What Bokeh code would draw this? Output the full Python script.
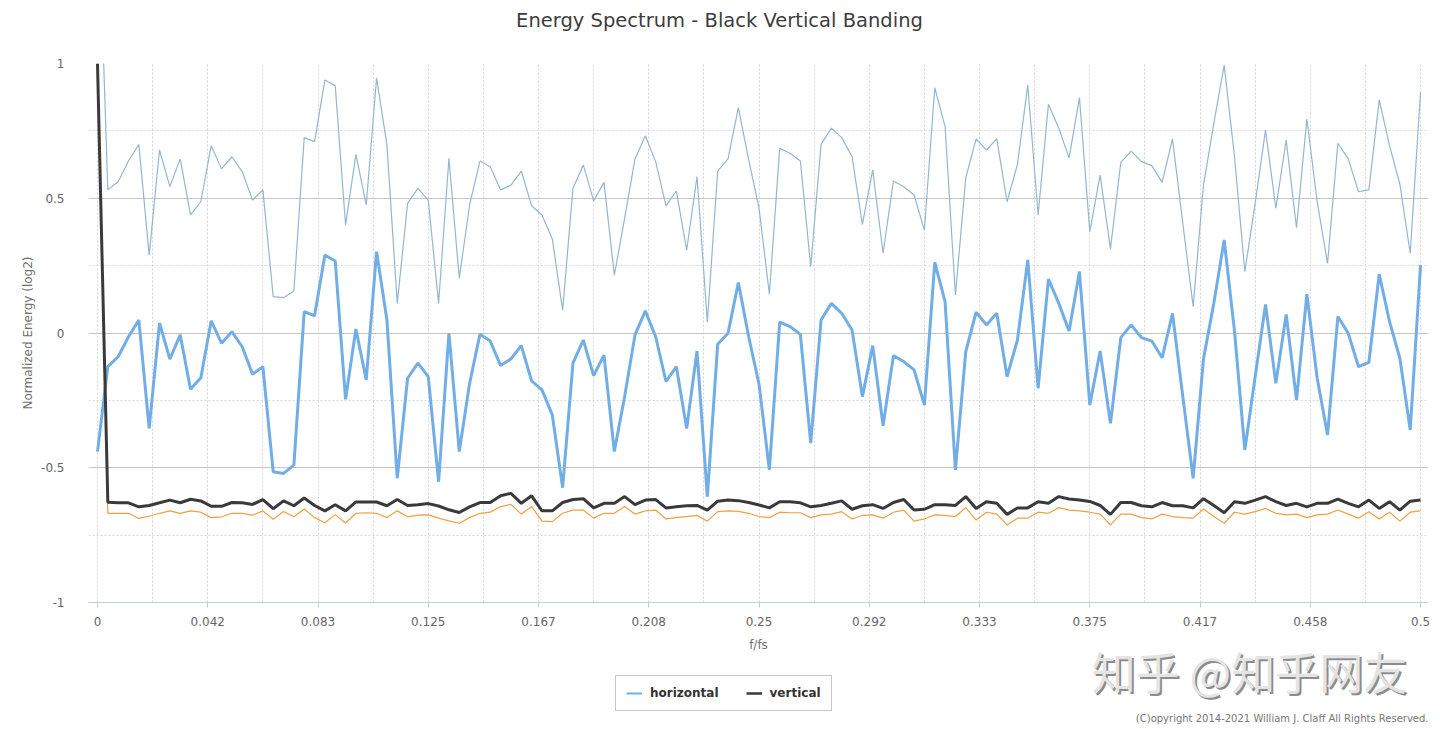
from bokeh.embed import file_html
from bokeh.resources import INLINE
from bokeh.layouts import column
from bokeh.plotting import figure
from bokeh.models import Range1d, FixedTicker, Label, Legend, LegendItem

# spectrum bins: 256 point FFT, bins 0..128 -> f/fs from 0 to 0.5
n_fft = 256
freq = [k / n_fft for k in range(n_fft // 2 + 1)]

horizontal = [
    -0.44, -0.125, -0.088, -0.014, 0.048, -0.354, 0.037, -0.097, -0.007, -0.209,
    -0.166, 0.045, -0.038, 0.005, -0.051, -0.153, -0.125, -0.515, -0.521, -0.49,
    0.079, 0.064, 0.289, 0.267, -0.246, 0.015, -0.174, 0.302, 0.048, -0.539,
    -0.168, -0.112, -0.162, -0.552, -0.001, -0.44, -0.187, -0.005, -0.03, -0.121,
    -0.096, -0.047, -0.178, -0.211, -0.304, -0.574, -0.112, -0.026, -0.158, -0.082,
    -0.44, -0.236, -0.007, 0.082, -0.014, -0.18, -0.125, -0.354, -0.067, -0.607,
    -0.042, -0.001, 0.187, -0.014, -0.19, -0.508, 0.04, 0.024, -0.005, -0.409,
    0.048, 0.11, 0.073, 0.011, -0.236, -0.047, -0.344, -0.084, -0.106, -0.137,
    -0.267, 0.262, 0.116, -0.508, -0.069, 0.077, 0.03, 0.073, -0.162, -0.026,
    0.271, -0.205, 0.2, 0.11, 0.007, 0.228, -0.267, -0.067, -0.335, -0.017,
    0.03, -0.017, -0.03, -0.092, 0.073, -0.236, -0.539, -0.096, 0.11, 0.345,
    0.007, -0.434, -0.162, 0.106, -0.187, 0.069, -0.249, 0.144, -0.168, -0.378,
    0.061, -0.001, -0.125, -0.109, 0.218, 0.042, -0.094, -0.36, 0.252,
]

vertical = [
    1.0, -0.628, -0.63, -0.63, -0.645, -0.64, -0.63, -0.62, -0.63, -0.617,
    -0.623, -0.643, -0.643, -0.629, -0.63, -0.636, -0.618, -0.652, -0.623, -0.641,
    -0.612, -0.64, -0.66, -0.637, -0.66, -0.627, -0.627, -0.627, -0.641, -0.618,
    -0.64, -0.637, -0.633, -0.642, -0.656, -0.666, -0.645, -0.629, -0.629, -0.604,
    -0.595, -0.632, -0.604, -0.66, -0.66, -0.629, -0.618, -0.615, -0.649, -0.632,
    -0.632, -0.607, -0.637, -0.62, -0.618, -0.649, -0.645, -0.641, -0.64, -0.657,
    -0.624, -0.62, -0.622, -0.629, -0.638, -0.649, -0.626, -0.626, -0.63, -0.645,
    -0.64, -0.632, -0.623, -0.654, -0.641, -0.637, -0.651, -0.629, -0.618, -0.657,
    -0.654, -0.637, -0.637, -0.64, -0.607, -0.651, -0.626, -0.632, -0.673, -0.649,
    -0.649, -0.626, -0.632, -0.607, -0.616, -0.62, -0.625, -0.64, -0.673, -0.629,
    -0.629, -0.641, -0.645, -0.629, -0.641, -0.641, -0.649, -0.615, -0.64, -0.667,
    -0.626, -0.632, -0.62, -0.607, -0.626, -0.64, -0.632, -0.645, -0.632, -0.632,
    -0.616, -0.632, -0.645, -0.62, -0.651, -0.626, -0.657, -0.624, -0.62,
]

# faint duplicate traces visible in the screenshot (not in the legend)
horizontal_ghost = [
    1.7, 0.531, 0.561, 0.638, 0.70, 0.289, 0.679, 0.543, 0.646, 0.438,
    0.487, 0.695, 0.609, 0.654, 0.599, 0.493, 0.531, 0.135, 0.131, 0.156,
    0.725, 0.71, 0.939, 0.918, 0.401, 0.663, 0.475, 0.947, 0.698, 0.11,
    0.481, 0.537, 0.493, 0.11, 0.648, 0.203, 0.475, 0.638, 0.617, 0.531,
    0.549, 0.601, 0.472, 0.438, 0.349, 0.085, 0.537, 0.623, 0.49, 0.559,
    0.215, 0.426, 0.646, 0.732, 0.636, 0.472, 0.527, 0.308, 0.58, 0.04,
    0.601, 0.646, 0.836, 0.642, 0.463, 0.144, 0.685, 0.667, 0.638, 0.246,
    0.70, 0.76, 0.725, 0.654, 0.403, 0.605, 0.296, 0.564, 0.543, 0.512,
    0.382, 0.91, 0.766, 0.141, 0.576, 0.72, 0.679, 0.72, 0.487, 0.626,
    0.92, 0.438, 0.849, 0.76, 0.65, 0.873, 0.376, 0.586, 0.312, 0.633,
    0.675, 0.636, 0.621, 0.559, 0.72, 0.407, 0.098, 0.549, 0.778, 0.994,
    0.654, 0.228, 0.481, 0.753, 0.463, 0.716, 0.391, 0.794, 0.487, 0.258,
    0.704, 0.646, 0.524, 0.531, 0.865, 0.695, 0.552, 0.296, 0.895,
]

vertical_ghost = [
    1.0, -0.669, -0.669, -0.669, -0.688, -0.68, -0.669, -0.66, -0.669, -0.66,
    -0.665, -0.685, -0.682, -0.669, -0.669, -0.676, -0.66, -0.691, -0.662, -0.682,
    -0.653, -0.685, -0.704, -0.674, -0.705, -0.669, -0.667, -0.669, -0.685, -0.66,
    -0.682, -0.676, -0.675, -0.687, -0.697, -0.706, -0.685, -0.669, -0.665, -0.644,
    -0.636, -0.672, -0.644, -0.698, -0.70, -0.669, -0.657, -0.657, -0.687, -0.669,
    -0.669, -0.644, -0.672, -0.66, -0.657, -0.69, -0.685, -0.681, -0.677, -0.698,
    -0.663, -0.66, -0.662, -0.669, -0.681, -0.685, -0.665, -0.667, -0.667, -0.685,
    -0.675, -0.672, -0.663, -0.69, -0.677, -0.675, -0.687, -0.665, -0.657, -0.698,
    -0.69, -0.675, -0.677, -0.681, -0.648, -0.694, -0.665, -0.672, -0.712, -0.687,
    -0.687, -0.665, -0.669, -0.648, -0.657, -0.66, -0.665, -0.672, -0.712, -0.672,
    -0.672, -0.685, -0.69, -0.672, -0.681, -0.685, -0.687, -0.653, -0.681, -0.706,
    -0.665, -0.672, -0.663, -0.651, -0.669, -0.675, -0.672, -0.685, -0.675, -0.672,
    -0.657, -0.672, -0.687, -0.663, -0.69, -0.665, -0.698, -0.665, -0.66,
]

x_ticks = [0] + [i / 24 for i in range(1, 13)]
x_tick_labels = ["0", "0.042", "0.083", "0.125", "0.167", "0.208", "0.25",
                 "0.292", "0.333", "0.375", "0.417", "0.458", "0.5"]
x_minor = [(2 * i + 1) / 48 for i in range(12)]
y_ticks = [-1, -0.5, 0, 0.5, 1]
y_tick_labels = ["-1", "-0.5", "0", "0.5", "1"]
y_minor = [-0.75, -0.25, 0.25, 0.75]

FONT = "DejaVu Sans"
W = 1440
LEFT, RIGHT = 88, 1428  # plot frame edges on the page
BLUE = "#72aee6"
BLACK = "#3a3a3a"


def strip(height):
    # text strip whose frame lines up with the chart frame; data units = page px
    f = figure(width=W, height=height, x_range=Range1d(LEFT, RIGHT),
               y_range=Range1d(height, 0), output_backend="svg",
               toolbar_location=None, min_border_left=LEFT,
               min_border_right=W - RIGHT, min_border_top=0,
               min_border_bottom=0)
    f.axis.visible = False
    f.grid.visible = False
    f.outline_line_color = None
    return f


# ---- header with the title
head = strip(40)
head.add_layout(Label(x=719, y=20, text="Energy Spectrum - Black Vertical Banding",
                      text_align="center", text_baseline="middle",
                      text_font=FONT, text_font_size="19.5px",
                      text_color="#3d3d3d"))

# ---- main chart
p = figure(width=W, height=594,
           x_range=Range1d(-0.0034, 0.503), y_range=Range1d(-1, 1),
           output_backend="svg", toolbar_location=None,
           min_border_left=LEFT, min_border_right=W - RIGHT,
           min_border_top=23, min_border_bottom=32)
p.outline_line_color = None

xt = FixedTicker(ticks=x_ticks, minor_ticks=x_minor)
yt = FixedTicker(ticks=y_ticks, minor_ticks=y_minor)
p.xaxis.ticker = xt
p.yaxis.ticker = yt
p.xgrid.ticker = xt
p.ygrid.ticker = yt
p.xgrid.grid_line_color = "#d4d4d4"
p.xgrid.grid_line_dash = "2 2"
p.xgrid.minor_grid_line_color = "#d4d4d4"
p.xgrid.minor_grid_line_dash = "2 2"
p.ygrid.grid_line_color = "#c6c6c6"
p.ygrid.minor_grid_line_color = "#d8d8d8"
p.ygrid.minor_grid_line_dash = "2 2"

p.xaxis.major_label_overrides = dict(zip(x_ticks, x_tick_labels))
p.xaxis.axis_line_color = "#c0d0e0"
p.xaxis.major_tick_line_color = "#c0d0e0"
p.xaxis.major_tick_in = 0
p.xaxis.major_tick_out = 5
p.xaxis.minor_tick_line_color = None
p.xaxis.major_label_standoff = 9

p.yaxis.major_label_overrides = dict(zip(y_ticks, y_tick_labels))
p.yaxis.axis_line_color = None
p.yaxis.major_tick_line_color = None
p.yaxis.minor_tick_line_color = None
p.yaxis.major_label_standoff = 18
p.yaxis.axis_label = "Normalized Energy (log2)"
p.yaxis.axis_label_standoff = 3

for ax in (p.xaxis, p.yaxis):
    ax.major_label_text_font = FONT
    ax.major_label_text_font_size = "12px"
    ax.major_label_text_color = "#666666"
    ax.axis_label_text_font = FONT
    ax.axis_label_text_font_size = "12px"
    ax.axis_label_text_font_style = "normal"
    ax.axis_label_text_color = "#707070"

p.line(freq, horizontal_ghost, line_color="#93b6d3", line_width=1.2)
p.line(freq, horizontal, line_color=BLUE, line_width=3)
p.line(freq, vertical_ghost, line_color="#f0a040", line_width=1.2)
p.line(freq, vertical, line_color=BLACK, line_width=3)

# ---- footer: x axis title, legend, watermark, copyright
foot = strip(95)
foot.add_layout(Label(x=758, y=10, text="f/fs", text_align="center",
                      text_baseline="middle", text_font=FONT,
                      text_font_size="12px", text_color="#707070"))
# legend keys: same series, hidden in this strip, only their swatches show
key_h = foot.line(freq, horizontal, line_color=BLUE, line_width=2, visible=False)
key_v = foot.line(freq, vertical, line_color=BLACK, line_width=2.5, visible=False)
legend = Legend(items=[LegendItem(label="horizontal", renderers=[key_h]),
                       LegendItem(label="vertical", renderers=[key_v])],
                location=(615 - LEFT, 18), orientation="horizontal",
                border_line_color="#909090", border_line_width=1,
                background_fill_color="white", background_fill_alpha=1,
                inactive_fill_alpha=0,
                padding=10, spacing=27, margin=0,
                glyph_width=16, glyph_height=14, label_height=14,
                label_standoff=8, label_text_font=FONT,
                label_text_font_style="bold", label_text_font_size="12px",
                label_text_color="#333333")
foot.add_layout(legend)
foot.add_layout(Label(x=1251, y=38, text="知乎 @知乎网友", text_align="center",
                      text_baseline="middle", text_font="Noto Sans CJK SC",
                      text_font_size="44px", text_color="#8c8c8c"))
foot.add_layout(Label(x=1249, y=36, text="知乎 @知乎网友", text_align="center",
                      text_baseline="middle", text_font="Noto Sans CJK SC",
                      text_font_size="44px", text_color="#e4e4e4"))
foot.add_layout(Label(x=1428, y=84,
                      text="(C)opyright 2014-2021 William J. Claff All Rights Reserved.",
                      text_align="right", text_baseline="middle",
                      text_font=FONT, text_font_size="10px",
                      text_color="#777777"))

page = column(head, p, foot, spacing=0)
open("out.html", "w").write(file_html(page, INLINE))
